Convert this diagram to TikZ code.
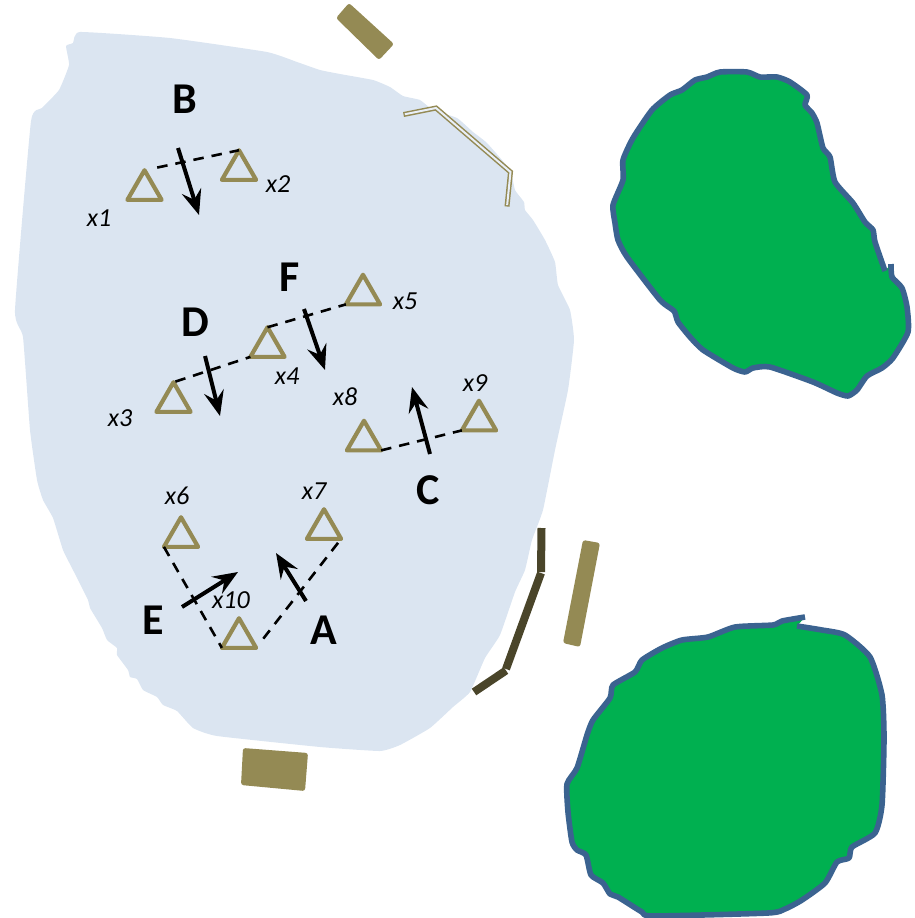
\documentclass[tikz,border=0pt]{standalone}
\usepackage{fontspec}
\setmainfont{Carlito}
\usetikzlibrary{arrows.meta,shapes.geometric}
\definecolor{regionblue}{HTML}{DBE5F1}
\definecolor{olivetan}{HTML}{948A54}
\definecolor{darkolive}{HTML}{4A452A}
\definecolor{islandgreen}{HTML}{00B050}
\definecolor{islandedge}{HTML}{3B6390}
\tikzset{
  tri/.style={regular polygon,regular polygon sides=3,minimum size=39.5pt,inner sep=0pt,outer sep=0pt,draw=olivetan,line width=4.2pt,line join=round},
  link/.style={line width=2.6pt,dash pattern=on 10.5pt off 8pt,black},
  flow/.style={line width=4pt,black,-{Stealth[length=25pt,width=20pt,inset=9pt]}},
  bigl/.style={font=\bfseries\fontsize{44}{44}\selectfont,inner sep=0pt},
  smalll/.style={font=\itshape\fontsize{26}{26}\selectfont,inner sep=0pt},
  island/.style={draw=islandedge,fill=islandgreen,line width=5.6pt,line join=round},
  block/.style={fill=olivetan,rounded corners=2.5pt},
  wall/.style={draw=darkolive,line width=8pt},
}
\begin{document}
\begin{tikzpicture}[x=1pt,y=-1pt]
\useasboundingbox (0,0) rectangle (915,918);
% main region
\fill[regionblue] plot[smooth cycle,tension=.25] coordinates {
(66,46)(73,43)(80,32)(170,38)(267,52)(297,62)(320,70)(340,74)(373,80)(390,87)(403,96)(420,100)(433,110)(457,118)(473,132)(487,143)(510,170)(515,190)(524,202)(525,210)(533,220)(545,240)(555,262)(558,285)(570,310)(574,340)(568,390)(555,450)(543,510)(532,540)(525,570)(515,592)(500,635)(485,658)(470,692)(453,707)(430,728)(400,745)(380,751)(320,747)(217,736)(193,728)(177,711)(163,705)(157,697)(143,690)(137,679)(130,677)(128,670)(117,655)(117,648)(107,640)(102,628)(90,608)(88,600)(73,570)(63,550)(53,518)(43,500)(37,480)(30,430)(23,337)(15,310)(31,121)(42,108)(59,90)(69,65)};
% islands
\draw[island] plot[smooth,tension=.35] coordinates {
(891,264)(892,277)(902,288)(907,307)(908,332)(893,358)(882,368)(867,376)(857,390)(848,396)(837,393)(813,382)(770,367)(753,368)(745,372)(733,368)(703,350)(690,337)(678,322)(674,311)(660,300)(627,257)(618,240)(615,223)(613,205)(623,180)(623,160)(633,138)(652,110)(670,95)(682,90)(695,80)(707,77)(720,72)(747,72)(760,77)(777,77)(790,82)(807,95)(805,105)(812,113)(817,123)(823,148)(830,157)(835,182)(853,203)(865,222)(873,230)(875,242)(885,271)};
\draw[island] plot[smooth,tension=.35] coordinates {
(797,626)(822,630)(845,635)(870,657)(882,695)(884,738)(882,805)(875,833)(852,847)(849,858)(837,862)(825,883)(802,900)(785,909)(768,913)(653,916)(642,912)(618,897)(610,894)(603,883)(591,875)(586,855)(577,850)(572,842)(568,812)(567,784)(577,768)(587,735)(593,720)(610,698)(613,685)(635,672)(642,660)(662,648)(682,640)(708,637)(735,627)(773,625)(782,621)(805,617)};
% olive blocks
\fill[block] (349,3)--(394,44)--(379,60)--(336,18)--cycle;
\fill[block] (583,540)--(600,543)--(580,647)--(563,643)--cycle;
\fill[block] (243,748)--(308,753)--(305,791)--(241,785)--cycle;
% dark wall
\draw[wall] (541.5,528)--(541,572);
\draw[wall] (541,573)--(506,669);
\draw[wall] (506,670.5)--(474,692);
% double wall
\draw[olivetan,line width=5pt,line join=miter] (403.5,114.5)--(436,108)--(510.5,172)--(507,206.5);
\draw[regionblue!60!white,line width=2pt,line join=miter,shorten <=1.4pt,shorten >=1.4pt] (403.5,114.5)--(436,108)--(510.5,172)--(507,206.5);
% triangles
\node[tri] (x1) at (144.5,190) {};
\node[tri] (x2) at (239,170) {};
\node[tri] (x3) at (173.5,402) {};
\node[tri] (x4) at (267.5,347) {};
\node[tri] (x5) at (363,294.5) {};
\node[tri] (x6) at (181,537) {};
\node[tri] (x7) at (324,529) {};
\node[tri] (x8) at (364,440.5) {};
\node[tri] (x9) at (479,420.5) {};
\node[tri] (x10) at (239,638) {};
% dashed links
\draw[link,shorten <=13pt] (x1.corner 1)--(x2.corner 1);
\draw[link,shorten <=2pt] (x3.corner 1)--(x4.corner 2);
\draw[link] (x4.corner 1)--(x5.corner 2);
\draw[link] (x8.corner 3)--(x9.corner 2);
\draw[link] (x6.corner 2)--(x10.corner 2);
\draw[link,shorten <=5pt,shorten >=8pt] (x7.corner 3)--(x10.corner 3);
% arrows
\coordinate (bs) at (178,148); \coordinate (bt) at (199,215);
\coordinate (fs) at (304,309); \coordinate (ft) at (325,370);
\coordinate (ds) at (205,356); \coordinate (dt) at (220,416);
\coordinate (cs) at (430,454); \coordinate (ct) at (412,387);
\coordinate (as) at (306,601); \coordinate (at') at (276,553);
\coordinate (es) at (182,607); \coordinate (et) at (238,572);
\draw[flow] (bs)--(bt);
\draw[flow] (fs)--(ft);
\draw[flow] (ds)--(dt);
\draw[flow] (cs)--(ct);
\draw[flow] (as)--(at');
\draw[flow] (es)--(et);
% labels
\node[bigl] (lb) at (185,99) {B};
\node[bigl] (lf) at (290,277) {F};
\node[bigl] (ld) at (195,322) {D};
\node[bigl] (lc) at (428,490) {C};
\node[bigl] (le) at (153,620) {E};
\node[bigl] (la) at (324,630) {A};
\node[smalll] (lx1) at (99,218) {x1};
\node[smalll] (lx2) at (278,184) {x2};
\node[smalll] (lx3) at (120,418) {x3};
\node[smalll] (lx4) at (287,376) {x4};
\node[smalll] (lx5) at (405,301) {x5};
\node[smalll] (lx6) at (177,496) {x6};
\node[smalll] (lx7) at (314,491) {x7};
\node[smalll] (lx8) at (345,397) {x8};
\node[smalll] (lx9) at (475,383) {x9};
\node[smalll] (lx10) at (231,600) {x10};
\end{tikzpicture}
\end{document}
